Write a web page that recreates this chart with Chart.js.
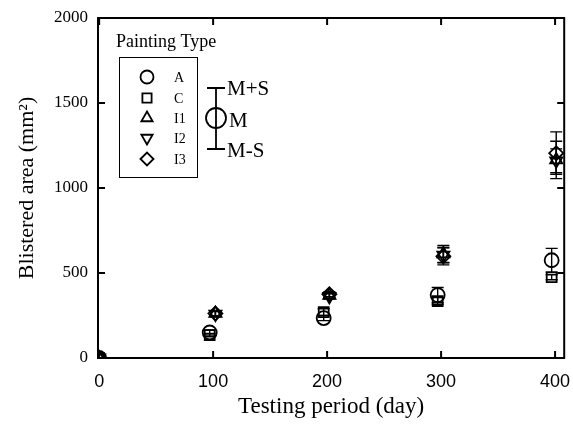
<!DOCTYPE html>
<html>
<head>
<meta charset="utf-8">
<script src="https://cdn.jsdelivr.net/npm/chart.js@4/dist/chart.umd.min.js"></script>
<style>
  html, body { margin: 0; padding: 0; background: #fff; }
  #wrap { width: 573px; height: 428px; }
</style>
</head>
<body>
<div id="wrap"><canvas id="c" width="573" height="428"></canvas></div>
<script>
// testing days (A and C are drawn a little left of the tick, the I types a little right)
const daysAC = [0, 97, 197, 297, 397];
const daysI = [0, 102, 202, 302, 401];

// mean blistered area (mm2)
const areaA  = [0, 150, 235, 370, 575];
const areaC  = [0, 135, 270, 335, 475];
const areaI1 = [0, 262, 368, 612, 1165];
const areaI2 = [0, 258, 362, 605, 1160];
const areaI3 = [0, 262, 375, 598, 1205];

// standard deviations
const sdA  = [0, 15, 15, 45, 70];
const sdC  = [0, 10, 20, 20, 15];
const sdI1 = [0, 15, 15, 50, 110];
const sdI2 = [0, 15, 15, 45, 70];
const sdI3 = [0, 15, 15, 50, 125];

const xTicks = [0, 100, 200, 300, 400];
const yTicks = [0, 500, 1000, 1500, 2000];

const typeNames = ['A', 'C', 'I1', 'I2', 'I3'];
const typeStyles = [
    { pointStyle: 'circle', rotation: 0 },
    { pointStyle: 'rect', rotation: 0 },
    { pointStyle: 'triangle', rotation: 0 },
    { pointStyle: 'triangle', rotation: 180 },
    { pointStyle: 'rectRot', rotation: 0 }
];

function series(i, days, area, sd) {
    return {
        label: typeNames[i],
        data: days.map((d, k) => ({ x: d, y: area[k], sd: sd[k] })),
        showLine: false,
        pointStyle: typeStyles[i].pointStyle,
        rotation: typeStyles[i].rotation,
        pointRadius: 7,
        pointHoverRadius: 7,
        pointBorderWidth: 1.8,
        pointBorderColor: '#000',
        pointBackgroundColor: 'rgba(255,255,255,0)'
    };
}

// error bars, frame, inward ticks and the legend
const decorPlugin = {
    id: 'decor',
    beforeDatasetsDraw(chart) {
        const ctx = chart.ctx;
        const xs = chart.scales.x, ys = chart.scales.y;
        ctx.save();
        ctx.strokeStyle = '#000';
        ctx.lineWidth = 1.4;
        chart.data.datasets.forEach(ds => {
            ds.data.forEach(p => {
                if (!p.sd) return;
                const px = xs.getPixelForValue(p.x);
                const top = ys.getPixelForValue(p.y + p.sd);
                const bot = ys.getPixelForValue(p.y - p.sd);
                ctx.beginPath();
                ctx.moveTo(px, top); ctx.lineTo(px, bot);
                ctx.moveTo(px - 6, top); ctx.lineTo(px + 6, top);
                ctx.moveTo(px - 6, bot); ctx.lineTo(px + 6, bot);
                ctx.stroke();
            });
        });
        ctx.restore();
    },
    afterDraw(chart) {
        const ctx = chart.ctx;
        const a = chart.chartArea;
        const xs = chart.scales.x, ys = chart.scales.y;
        ctx.save();
        ctx.strokeStyle = '#000';
        ctx.lineWidth = 2;
        ctx.strokeRect(a.left, a.top, a.right - a.left, a.bottom - a.top);
        ctx.beginPath();
        xTicks.forEach(v => {
            const px = xs.getPixelForValue(v);
            ctx.moveTo(px, a.bottom); ctx.lineTo(px, a.bottom - 7);
            ctx.moveTo(px, a.top); ctx.lineTo(px, a.top + 7);
        });
        yTicks.forEach(v => {
            const py = ys.getPixelForValue(v);
            ctx.moveTo(a.left, py); ctx.lineTo(a.left + 7, py);
            ctx.moveTo(a.right, py); ctx.lineTo(a.right - 7, py);
        });
        ctx.stroke();

        // legend
        ctx.fillStyle = '#000';
        ctx.textBaseline = 'middle';
        ctx.textAlign = 'left';
        ctx.font = '18px "Liberation Serif", serif';
        ctx.fillText('Painting Type', 116, 42);
        ctx.lineWidth = 1;
        ctx.strokeRect(119.5, 57.5, 78, 120);
        ctx.font = '14px "Liberation Serif", serif';
        const rowY = [77, 98, 118, 138, 159];
        typeNames.forEach((name, i) => {
            ctx.fillStyle = 'rgba(255,255,255,0)';
            ctx.lineWidth = 1.8;
            Chart.helpers.drawPoint(ctx, {
                pointStyle: typeStyles[i].pointStyle,
                rotation: typeStyles[i].rotation,
                radius: 6.5,
                borderWidth: 1.8
            }, 147, rowY[i]);
            ctx.fillStyle = '#000';
            ctx.fillText(name, 174, rowY[i] + 1);
        });
        ctx.lineWidth = 1.8;
        ctx.beginPath();
        ctx.moveTo(216, 88); ctx.lineTo(216, 149);
        ctx.moveTo(207, 88); ctx.lineTo(225, 88);
        ctx.moveTo(207, 149); ctx.lineTo(225, 149);
        ctx.stroke();
        ctx.beginPath();
        ctx.arc(216, 118, 10, 0, Math.PI * 2);
        ctx.stroke();
        ctx.font = '21px "Liberation Serif", serif';
        ctx.fillText('M+S', 227, 89);
        ctx.fillText('M', 229, 121);
        ctx.fillText('M-S', 227, 151);
        ctx.restore();
    }
};

new Chart(document.getElementById('c'), {
    type: 'scatter',
    data: {
        datasets: [
            series(0, daysAC, areaA, sdA),
            series(1, daysAC, areaC, sdC),
            series(2, daysI, areaI1, sdI1),
            series(3, daysI, areaI2, sdI2),
            series(4, daysI, areaI3, sdI3)
        ]
    },
    options: {
        responsive: false,
        animation: false,
        events: [],
        layout: { padding: { top: 18, right: 7, left: 0, bottom: 0 } },
        plugins: {
            legend: { display: false },
            tooltip: { enabled: false }
        },
        scales: {
            x: {
                type: 'linear',
                min: -1,
                max: 408,
                afterBuildTicks(scale) { scale.ticks = xTicks.map(v => ({ value: v })); },
                afterFit(scale) {
                    scale.height = 70;
                    scale.paddingLeft = 0;
                    scale.paddingRight = 0;
                },
                grid: { display: false, drawTicks: false },
                border: { display: false },
                ticks: {
                    color: '#000',
                    padding: 13,
                    font: { family: '"Liberation Sans", sans-serif', size: 18 }
                },
                title: {
                    display: true,
                    text: 'Testing period (day)',
                    color: '#000',
                    padding: { top: 0, bottom: 7 },
                    font: { family: '"Liberation Serif", serif', size: 23 }
                }
            },
            y: {
                type: 'linear',
                min: 0,
                max: 2000,
                afterBuildTicks(scale) { scale.ticks = yTicks.map(v => ({ value: v })); },
                afterFit(scale) {
                    scale.width = 98;
                    scale.paddingTop = 0;
                    scale.paddingBottom = 0;
                },
                grid: { display: false, drawTicks: false },
                border: { display: false },
                ticks: {
                    color: '#000',
                    padding: 10,
                    callback: v => String(v),
                    font: { family: '"Liberation Serif", serif', size: 17 }
                },
                title: {
                    display: true,
                    text: 'Blistered area (mm²)',
                    color: '#000',
                    padding: { top: 14, bottom: 0 },
                    font: { family: '"Liberation Serif", serif', size: 22 }
                }
            }
        }
    },
    plugins: [decorPlugin]
});
</script>
</body>
</html>
